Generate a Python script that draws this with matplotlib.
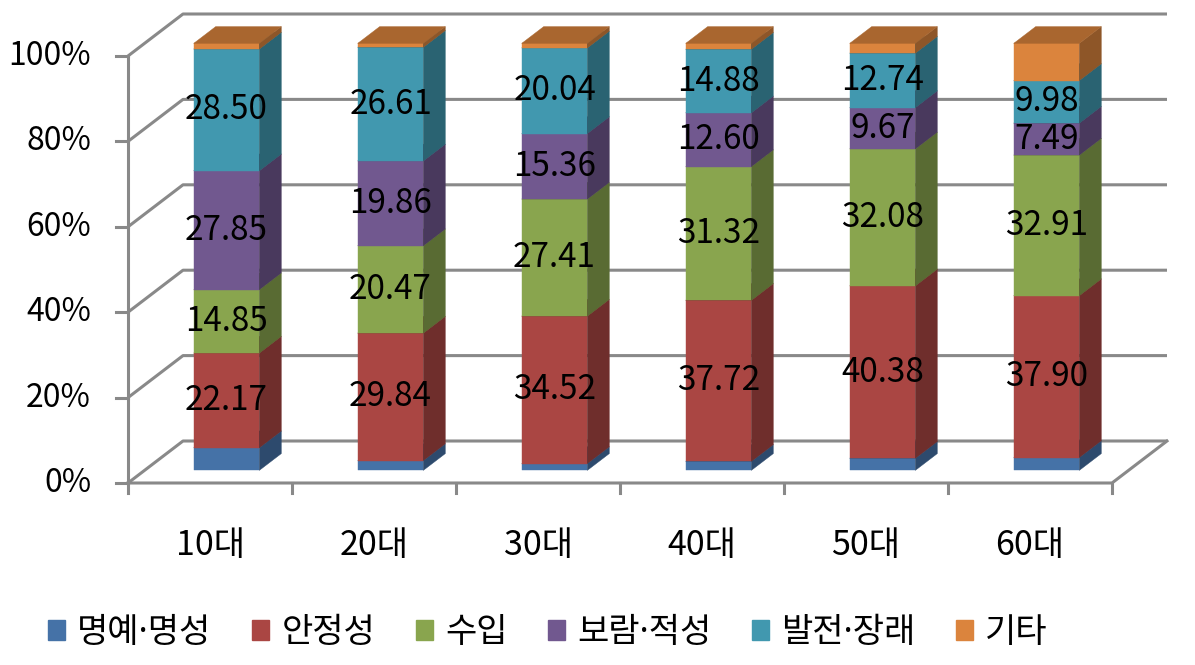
import numpy as np
import matplotlib.pyplot as plt
from matplotlib.patches import Patch
from matplotlib.colors import to_rgb

plt.rcParams['font.family'] = ['Noto Sans CJK KR', 'DejaVu Sans']

categories = ['10대', '20대', '30대', '40대', '50대', '60대']
series_names = ['명예·명성', '안정성', '수입', '보람·적성', '발전·장래', '기타']
honor = [5.30, 2.30, 1.60, 2.10, 2.83, 3.02]
stability = [22.17, 29.84, 34.52, 37.72, 40.38, 37.90]
income = [14.85, 20.47, 27.41, 31.32, 32.08, 32.91]
aptitude = [27.85, 19.86, 15.36, 12.60, 9.67, 7.49]
future = [28.50, 26.61, 20.04, 14.88, 12.74, 9.98]
other = [1.33, 0.92, 1.07, 1.38, 2.30, 8.70]
series = [honor, stability, income, aptitude, future, other]
show_label = [False, True, True, True, True, False]
colors = ['#4572A7', '#AA4643', '#89A54E', '#71588F', '#4198AF', '#DB843D']
y_ticks = [0, 20, 40, 60, 80, 100]

# pixel geometry of the fake 3d box
PX_CAT = 164.0     # px per category
PX_PCT = 4.27      # px per percent
DEPTH_X, DEPTH_Y = 55.0, 42.0
KX = DEPTH_X / PX_CAT
KY = DEPTH_Y / PX_PCT
Z0, Z1 = 0.30, 0.70   # bar depth range
HALF_W = 0.20
GRID = '#898989'


def proj(x, p, z):
    return x + z * KX, p + z * KY


def shade(c, f):
    r, g, b = to_rgb(c)
    return (r * f, g * f, b * f)


fig = plt.figure(figsize=(11.95, 6.65), dpi=100)
ax = fig.add_axes([0, 0, 1, 1])
ax.set_xlim(-128 / PX_CAT, (1195 - 128) / PX_CAT)
ax.set_ylim(-(665 - 483) / PX_PCT, 483 / PX_PCT)
ax.axis('off')

n = len(categories)

# walls: gridlines on left wall and back wall
for p in y_ticks:
    pts = [proj(0, p, 0), proj(0, p, 1), proj(n, p, 1)]
    ax.plot([q[0] for q in pts], [q[1] for q in pts], color=GRID, lw=2.2,
            solid_capstyle='butt', zorder=1)
    ax.plot([-12 / PX_CAT, 0], [p, p], color=GRID, lw=2.2, zorder=1)
    ax.text(-37 / PX_CAT, p, f'{p}%', ha='right', va='center', fontsize=23)

# axis line and floor
ax.plot([0, 0], [0, 100], color=GRID, lw=2.2, zorder=1)
pts = [proj(0, 0, 0), proj(n, 0, 0), proj(n, 0, 1)]
ax.plot([q[0] for q in pts], [q[1] for q in pts], color=GRID, lw=2.2, zorder=1)
for k in range(n + 1):
    ax.plot([k, k], [0, -10 / PX_PCT], color=GRID, lw=2.2, zorder=1)

for i, cat in enumerate(categories):
    ax.text(i + 0.5, -62 / PX_PCT, cat, ha='center', va='center', fontsize=24.5)
    xl, xr = i + 0.5 - HALF_W, i + 0.5 + HALF_W
    bottom = 0
    for s, vals in enumerate(series):
        v = vals[i]
        top = bottom + v
        front = [proj(xl, bottom, Z0), proj(xr, bottom, Z0), proj(xr, top, Z0), proj(xl, top, Z0)]
        side = [proj(xr, bottom, Z0), proj(xr, bottom, Z1), proj(xr, top, Z1), proj(xr, top, Z0)]
        lid = [proj(xl, top, Z0), proj(xr, top, Z0), proj(xr, top, Z1), proj(xl, top, Z1)]
        for poly, f in [(front, 1.0), (side, 0.65), (lid, 0.77)]:
            c = shade(colors[s], f)
            ax.fill([q[0] for q in poly], [q[1] for q in poly], color=c,
                    ec=c, lw=0.3, zorder=2)
        if show_label[s]:
            tx, ty = proj(i + 0.5, (bottom + top) / 2, Z0)
            ax.text(tx, ty, f'{v:.2f}', ha='center', va='center', fontsize=24, zorder=3)
        bottom = top

handles = [Patch(color=c) for c in colors]
fig.legend(handles, series_names, loc='center', bbox_to_anchor=(548 / 1195, 1 - 633 / 665),
           ncol=6, frameon=False, handlelength=0.5, handleheight=0.5,
           handletextpad=0.35, columnspacing=1.2,
           prop={'family': ['Noto Sans', 'Noto Sans CJK KR'], 'size': 24.5})

fig.savefig('out.png', dpi=100)
